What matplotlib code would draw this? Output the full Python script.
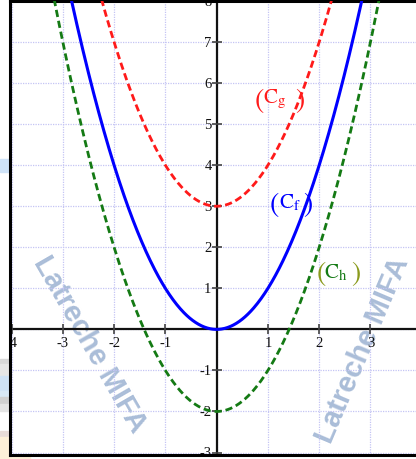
import numpy as np
import matplotlib
matplotlib.use("Agg")
import matplotlib.pyplot as plt
from matplotlib.patches import Rectangle

plt.rcParams["mathtext.fontset"] = "stix"

# curves: y = x^2 + shift
names = [r"$\mathrm{C}_{\mathrm{f}}$", r"$\mathrm{C}_{\mathrm{g}}$", r"$\mathrm{C}_{\mathrm{h}}$"]
shifts = [0, 3, -2]
colors = ["#0000ff", "#ff1a1a", "#147a14"]
paren_colors = ["#0000ff", "#ff1a1a", "#8a9a1c"]
styles = ["solid", "dashed", "dashed"]
label_pos = [(1.42, 3.1), (1.12, 5.63), (2.33, 1.41)]
close_gap = [18, 26, 20]

xticks = [-4, -3, -2, -1, 1, 2, 3]
yticks = [-3, -2, -1, 1, 2, 3, 4, 5, 6, 7, 8]

W, H = 416, 460
fig = plt.figure(figsize=(W / 100, H / 100), dpi=100)

# axes box in pixels: left 10, top 2, bottom 456, runs past the right edge
x0, x1 = -4.03, 4.2
y0, y1 = -3.06, 7.96
ax = fig.add_axes([10 / W, 4 / H, 422 / W, 454 / H])
ax.set_xlim(x0, x1)
ax.set_ylim(y0, y1)

ax.set_xticks(range(-4, 5))
ax.set_yticks(range(-3, 9))
ax.tick_params(length=0, labelbottom=False, labelleft=False)
ax.grid(True, color="#c4c4f4", ls=(0, (1, 1)), lw=0.9, zorder=0)
for s in ax.spines.values():
    s.set_linewidth(2.2)
    s.set_color("black")

# watermark
wm = dict(fontsize=21, fontweight="bold", family="Liberation Sans",
          color="#aabdd8", ha="center", va="center", zorder=1,
          rotation_mode="anchor")
ax.text(-2.48, -0.35, "Latreche MIFA", rotation=-60, **wm)
ax.text(2.84, -0.49, "Latreche MIFA", rotation=67, **wm)

# axes through the origin
ax.axhline(0, color="#111111", lw=1.6, zorder=2)
ax.axvline(0, color="#111111", lw=1.6, zorder=2)
ax.plot(xticks, np.zeros(len(xticks)), ls="none", marker="|", ms=7,
        mew=1.2, color="#444444", zorder=2)
ax.plot(np.zeros(len(yticks)), yticks, ls="none", marker="_", ms=7,
        mew=1.2, color="#444444", zorder=2)

tick_font = dict(family="Liberation Serif", fontsize=10.5, color="#111111",
                 clip_on=True, zorder=2)
for t in xticks:
    ax.text(t, -0.32, str(t), ha="center", va="center", **tick_font)
for t in yticks:
    ax.text(-0.1, t, str(t), ha="right", va="center", **tick_font)

x = np.linspace(-4.2, 4.3, 600)
for shift, c, pc, ls, name, (lx, ly), gap in zip(shifts, colors, paren_colors,
                                                  styles, names, label_pos, close_gap):
    if ls == "solid":
        ax.plot(x, x ** 2 + shift, color=c, lw=2.2, zorder=3)
    else:
        ax.plot(x, x ** 2 + shift, color=c, lw=2.0, dashes=(2.6, 1.4), zorder=3)
    ax.text(lx, ly, name, color=c, fontsize=15, ha="center", va="center", zorder=4)
    for ch, dx in (("(", -15), (")", gap)):
        ax.annotate(ch, (lx, ly), xytext=(dx, -2), textcoords="offset pixels",
                    color=pc, fontsize=20, family="STIXGeneral",
                    ha="center", va="center", zorder=4)

# strips at the left margin
strips = [(160, 173, "#cfe3f8"), (360, 365, "#d8d8d8"), (365, 377, "#e6e6e6"),
          (377, 392, "#cfe2f5"), (392, 398, "#d8e8f5"), (398, 405, "#d0d0d0"),
          (405, 412, "#e4e4e4"), (432, 438, "#e8dcd8"), (438, 460, "#fdf0d8")]
for top, bot, col in strips:
    fig.patches.append(Rectangle((0, 1 - bot / H), 9 / W, (bot - top) / H,
                                 transform=fig.transFigure, color=col, zorder=-1))
fig.patches.append(Rectangle((0, 0), 30 / W, 3 / H, transform=fig.transFigure,
                             color="#fdf0d8", zorder=-1))

fig.savefig("out.png", dpi=100)
